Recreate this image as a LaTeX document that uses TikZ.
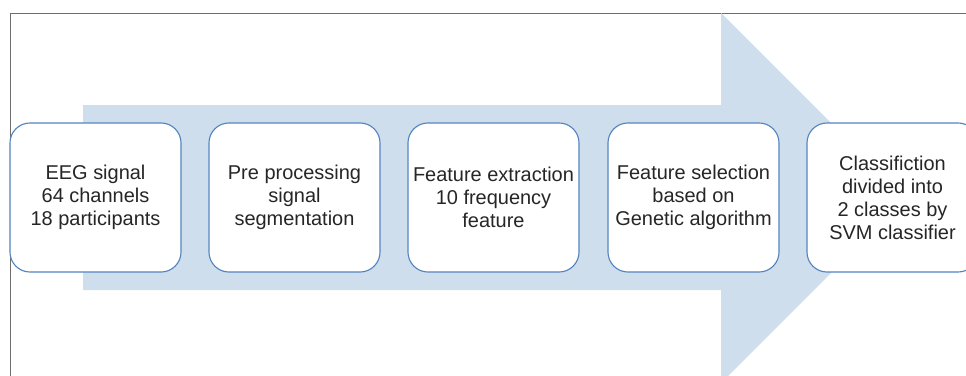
\documentclass[tikz,border=0pt]{standalone}
\usepackage{fontspec}
\setmainfont{Liberation Sans}
\usepackage{tikz}
\definecolor{arrowFill}{RGB}{207,222,237}
\definecolor{boxStroke}{RGB}{84,132,192}
\definecolor{frameStroke}{RGB}{110,110,110}
\colorlet{ink}{black!85}
\tikzset{
  stage/.style={
    rounded corners=0.5cm,
    draw=boxStroke,
    fill=white,
    line width=0.8pt,
    minimum width=4.275cm,
    minimum height=3.725cm,
    inner sep=0pt,
    align=center,
    text=ink,
    font=\fontsize{14.2}{16.4}\selectfont
  },
  frameline/.style={draw=frameStroke, line width=0.7pt}
}

\begin{document}
\begin{tikzpicture}[x=0.025cm,y=-0.025cm]
  \useasboundingbox (0,0) rectangle (966,375);
  \begin{scope}
    \clip (0,0) rectangle (966,375);
    \draw[frameline] (10,380) -- (10,13) -- (970,13);

    % big flow arrow behind the stages
    \fill[arrowFill] (83,105) -- (721,105) -- (721,13) -- (906,198)
      -- (721,383) -- (721,290) -- (83,290) -- cycle;

    \node[stage] (eeg) at (95.5,197.5) {EEG signal\\64 channels\\18 participants};
    \node[stage] (prep) at (294.5,197.5) {Pre processing\\signal\\segmentation};
    \node[stage] (extract) at (493.5,197.5) {Feature extraction\\10 frequency\\feature};
    \node[stage] (select) at (693.5,197.5) {Feature selection\\based on\\Genetic algorithm};
    \node[stage] (classify) at (892.5,197.5) {Classifiction\\divided into\\2 classes by\\SVM classifier};
  \end{scope}
\end{tikzpicture}
\end{document}
